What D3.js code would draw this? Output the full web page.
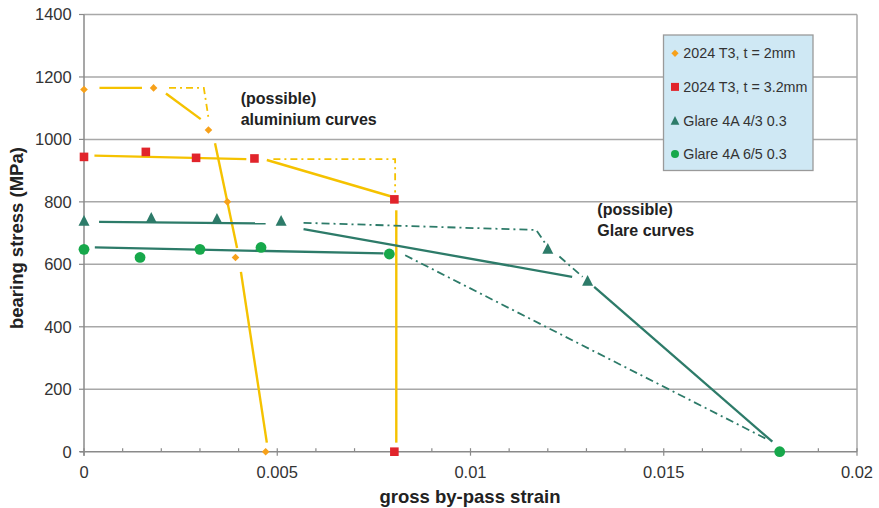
<!DOCTYPE html>
<html>
<head>
<meta charset="utf-8">
<script src="https://d3js.org/d3.v7.min.js"></script>
<style>
  body { margin: 0; background: #fff; }
  text { font-family: "Liberation Sans", Arial, sans-serif; }
</style>
</head>
<body>
<svg id="chart" width="879" height="508"></svg>
<script>
  // tick values
  const xTicks = [0, 0.005, 0.01, 0.015, 0.02];
  const xTickLabels = ["0", "0.005", "0.01", "0.015", "0.02"];
  const xMinorTicks = d3.range(0, 0.0201, 0.001);
  const yTicks = [0, 200, 400, 600, 800, 1000, 1200, 1400];

  // measured points (strain, MPa)
  const al2Strain = [0, 0.0018, 0.00322, 0.00371, 0.00392, 0.0047];
  const al2Stress = [1160, 1165, 1030, 800, 622, 0];
  const al32Strain = [0, 0.0016, 0.0029, 0.00441, 0.00803, 0.00803];
  const al32Stress = [944, 960, 941, 939, 808, 0];
  const g43Strain = [0, 0.00174, 0.00344, 0.0051, 0.012, 0.01303];
  const g43Stress = [740, 750, 747, 740, 651, 548];
  const g65Strain = [0, 0.00145, 0.003, 0.00458, 0.0079, 0.018];
  const g65Stress = [648, 622, 648, 654, 633, 0];

  // hand drawn "possible" curves, as pieces [strain, MPa]
  const aluSolid = [
    [[0.0004, 1165], [0.0015, 1165]],
    [[0.00212, 1147], [0.00302, 1065]],
    [[0.00339, 988], [0.00396, 652]],
    [[0.00406, 576], [0.00473, 29]],
    [[0.00027, 948], [0.0042, 937]],
    [[0.00473, 934], [0.00793, 818]],
    [[0.00808, 773], [0.00808, 29]]
  ];
  const aluDashDot = [
    [[0.0022, 1165], [0.0031, 1165], [0.00322, 1070]],
    [[0.0049, 937], [0.00805, 937], [0.00805, 830]]
  ];
  const glareSolid = [
    [[0.00039, 736], [0.0047, 731]],
    [[0.00568, 713], [0.01263, 560]],
    [[0.0132, 528], [0.01781, 32]],
    [[0.00028, 654], [0.00775, 635]]
  ];
  const glareDashDot = [
    [[0.00568, 733], [0.0117, 710], [0.012, 655]],
    [[0.0123, 625], [0.0129, 560]],
    [[0.00831, 629], [0.01772, 37]]
  ];

  const seriesNames = ["2024 T3, t = 2mm", "2024 T3, t = 3.2mm", "Glare 4A 4/3 0.3", "Glare 4A 6/5 0.3"];

  const gold = "#f5c200", teal = "#2d7b69";

  const svg = d3.select("#chart");
  const margin = {left: 84, top: 14.5, right: 22, bottom: 56.3};
  const W = 879, H = 508;

  const x = d3.scaleLinear().domain([0, 0.02]).range([margin.left, W - margin.right]);
  const y = d3.scaleLinear().domain([0, 1400]).range([H - margin.bottom, margin.top]);

  // gridlines
  svg.append("g").selectAll("line").data(yTicks.filter(d => d > 0)).join("line")
    .attr("x1", x(0)).attr("x2", x(0.02))
    .attr("y1", d => y(d)).attr("y2", d => y(d))
    .attr("stroke", "#a8a8a8").attr("stroke-width", 1.5);
  svg.append("line")
    .attr("x1", x(0.02)).attr("x2", x(0.02)).attr("y1", y(1400)).attr("y2", y(0))
    .attr("stroke", "#a8a8a8").attr("stroke-width", 1.5);

  // axes
  const axisCol = "#8a8a8a";
  svg.append("line").attr("x1", x(0)).attr("x2", x(0)).attr("y1", y(1400)).attr("y2", y(0) + 4)
    .attr("stroke", axisCol).attr("stroke-width", 1.5);
  svg.append("line").attr("x1", x(0) - 4).attr("x2", x(0.02)).attr("y1", y(0)).attr("y2", y(0))
    .attr("stroke", axisCol).attr("stroke-width", 1.5);
  svg.append("g").selectAll("line").data(yTicks).join("line")
    .attr("x1", x(0) - 5).attr("x2", x(0)).attr("y1", d => y(d)).attr("y2", d => y(d))
    .attr("stroke", axisCol).attr("stroke-width", 1.2);
  svg.append("g").selectAll("line").data(xMinorTicks).join("line")
    .attr("x1", d => x(d)).attr("x2", d => x(d))
    .attr("y1", d => y(0) - 3.5)
    .attr("y2", (d, i) => i % 5 === 0 ? y(0) + 4 : y(0))
    .attr("stroke", axisCol).attr("stroke-width", 1.2);

  // tick labels
  svg.append("g").selectAll("text").data(yTicks).join("text")
    .attr("x", 71.7).attr("y", d => y(d)).attr("dy", "0.36em")
    .attr("text-anchor", "end").attr("font-size", 16.5).attr("fill", "#333")
    .text(d => d);
  svg.append("g").selectAll("text").data(xTicks).join("text")
    .attr("x", d => x(d)).attr("y", 477.5)
    .attr("text-anchor", "middle").attr("font-size", 16.5).attr("fill", "#333")
    .text((d, i) => xTickLabels[i]);

  // axis titles
  svg.append("text").attr("x", 470).attr("y", 503)
    .attr("text-anchor", "middle").attr("font-size", 18.5).attr("font-weight", "bold").attr("fill", "#222")
    .text("gross by-pass strain");
  svg.append("text").attr("transform", "translate(23," + ((y(0) + y(1400)) / 2 + 5) + ") rotate(-90)")
    .attr("text-anchor", "middle").attr("font-size", 18.5).attr("font-weight", "bold").attr("fill", "#222")
    .text("bearing stress (MPa)");

  // curves
  const line = d3.line().x(d => x(d[0])).y(d => y(d[1]));
  function drawPieces(pieces, color, width, dash) {
    svg.append("g").selectAll("path").data(pieces).join("path")
      .attr("d", line).attr("fill", "none")
      .attr("stroke", color).attr("stroke-width", width)
      .attr("stroke-dasharray", dash);
  }
  drawPieces(aluSolid, gold, 2.4, null);
  drawPieces(aluDashDot, gold, 1.8, "7,4,2,4");
  drawPieces(glareSolid, teal, 2.3, null);
  drawPieces(glareDashDot, teal, 1.8, "8,4,2,4");

  // marker shapes
  function marker(kind, s) {
    if (kind === "diamond") return `M0,${-s}L${s},0L0,${s}L${-s},0Z`;
    if (kind === "square") return `M${-s},${-s}H${s}V${s}H${-s}Z`;
    if (kind === "triangle") return `M0,${-s}L${s},${s * 0.95}H${-s}Z`;
    return d3.symbol(d3.symbolCircle, Math.PI * s * s)();
  }
  const series = [
    {xs: al2Strain, ys: al2Stress, kind: "diamond", color: "#f7a11a", s: 3.8, ls: 3.6},
    {xs: al32Strain, ys: al32Stress, kind: "square", color: "#e1242b", s: 4.3, ls: 4.0},
    {xs: g43Strain, ys: g43Stress, kind: "triangle", color: teal, s: 5.5, ls: 4.4},
    {xs: g65Strain, ys: g65Stress, kind: "circle", color: "#17a84b", s: 5.4, ls: 4.0}
  ];
  series.forEach(sr => {
    svg.append("g").selectAll("path").data(sr.xs).join("path")
      .attr("transform", (d, i) => `translate(${x(d)},${y(sr.ys[i])})`)
      .attr("d", marker(sr.kind, sr.s))
      .attr("fill", sr.color);
  });

  // annotations
  const notes = [
    {x: 240.7, lines: ["(possible)", "aluminium curves"], y0: 104},
    {x: 597.3, lines: ["(possible)", "Glare curves"], y0: 215}
  ];
  notes.forEach(n => {
    svg.append("g").selectAll("text").data(n.lines).join("text")
      .attr("x", n.x).attr("y", (d, i) => n.y0 + i * 21)
      .attr("font-size", 16).attr("font-weight", "bold").attr("fill", "#222")
      .text(d => d);
  });

  // legend
  const lg = svg.append("g");
  lg.append("rect").attr("x", 663.5).attr("y", 35).attr("width", 149.5).attr("height", 135.5)
    .attr("fill", "#cfe8f4").attr("stroke", "#9a9a9a").attr("stroke-width", 1.3);
  const rows = lg.selectAll("g").data(series).join("g")
    .attr("transform", (d, i) => `translate(675,${53.3 + i * 33.6})`);
  rows.append("path").attr("d", d => marker(d.kind, d.ls)).attr("fill", d => d.color);
  rows.append("text").attr("x", 8.3).attr("dy", "0.36em")
    .attr("font-size", 14.3).attr("fill", "#333")
    .text((d, i) => seriesNames[i]);
</script>
</body>
</html>
